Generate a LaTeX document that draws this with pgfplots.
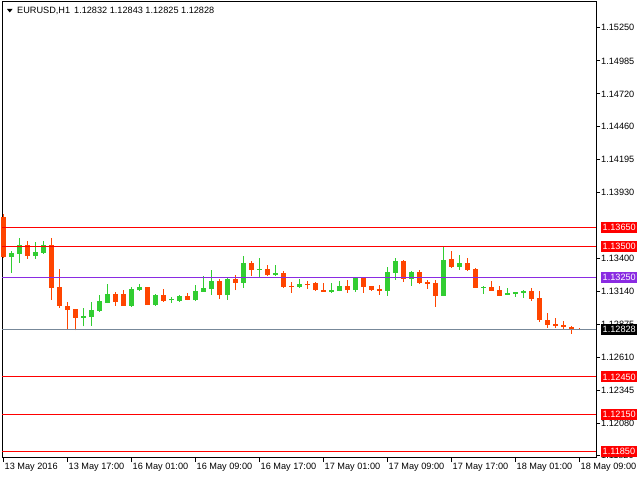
\documentclass[border=0pt]{standalone}
\usepackage{fontspec}
\setmainfont{Liberation Sans}
\usepackage{pgfplots}
\usepackage{pgfplotstable}
\pgfplotsset{compat=1.18}
\definecolor{bull}{RGB}{50,205,50}
\definecolor{bear}{RGB}{255,69,0}
\definecolor{lvl}{RGB}{255,0,0}
\definecolor{pur}{RGB}{138,43,226}
\definecolor{bid}{RGB}{119,136,153}

% bullish candles: x o h l c
\pgfplotstableread{
x o h l c
1 1.13414 1.13460 1.13286 1.13441
2 1.13438 1.13564 1.13366 1.13508
4 1.13422 1.13532 1.13396 1.13452
5 1.13446 1.13540 1.13438 1.13508
10 1.12925 1.13003 1.12856 1.12939
11 1.12933 1.13049 1.12861 1.12987
12 1.12981 1.13107 1.12973 1.13059
13 1.13045 1.13195 1.13043 1.13115
16 1.13019 1.13169 1.13013 1.13155
17 1.13147 1.13195 1.13142 1.13171
19 1.13027 1.13115 1.13019 1.13107
21 1.13065 1.13091 1.13045 1.13073
22 1.13061 1.13107 1.13053 1.13099
24 1.13067 1.13187 1.13059 1.13139
25 1.13134 1.13259 1.13132 1.13163
26 1.13155 1.13308 1.13107 1.13219
28 1.13107 1.13243 1.13069 1.13235
30 1.13206 1.13420 1.13166 1.13364
32 1.13310 1.13404 1.13251 1.13316
34 1.13267 1.13348 1.13259 1.13283
37 1.13171 1.13235 1.13163 1.13195
41 1.13134 1.13203 1.13126 1.13147
42 1.13139 1.13219 1.13137 1.13179
44 1.13147 1.13245 1.13134 1.13243
48 1.13142 1.13332 1.13101 1.13292
49 1.13286 1.13404 1.13230 1.13380
51 1.13238 1.13300 1.13182 1.13292
55 1.13101 1.13492 1.13099 1.13388
57 1.13334 1.13428 1.13310 1.13364
60 1.13169 1.13182 1.13119 1.13174
63 1.13109 1.13163 1.13107 1.13123
64 1.13118 1.13133 1.13093 1.13131
65 1.13126 1.13147 1.13085 1.13139
}\bulltab

% bearish candles: x o h l c
\pgfplotstableread{
x o h l c
0 1.13733 1.13757 1.13401 1.13412
3 1.13508 1.13540 1.13398 1.13422
6 1.13508 1.13564 1.13067 1.13166
7 1.13171 1.13318 1.13005 1.13021
8 1.13019 1.13051 1.12837 1.12989
9 1.12992 1.12995 1.12824 1.12925
14 1.13115 1.13129 1.13021 1.13053
15 1.13115 1.13147 1.13019 1.13021
18 1.13171 1.13173 1.13025 1.13027
20 1.13107 1.13155 1.13053 1.13061
23 1.13099 1.13123 1.13067 1.13069
27 1.13219 1.13235 1.13075 1.13107
29 1.13235 1.13267 1.13147 1.13206
31 1.13364 1.13380 1.13259 1.13310
33 1.13316 1.13348 1.13259 1.13267
35 1.13283 1.13300 1.13163 1.13171
36 1.13177 1.13211 1.13126 1.13171
38 1.13195 1.13219 1.13158 1.13190
39 1.13203 1.13211 1.13142 1.13147
40 1.13147 1.13203 1.13132 1.13134
43 1.13179 1.13227 1.13126 1.13150
45 1.13243 1.13245 1.13126 1.13174
46 1.13179 1.13181 1.13142 1.13150
47 1.13155 1.13187 1.13109 1.13142
50 1.13380 1.13388 1.13214 1.13238
52 1.13292 1.13308 1.13198 1.13206
53 1.13211 1.13227 1.13158 1.13198
54 1.13203 1.13227 1.13013 1.13101
56 1.13396 1.13460 1.13326 1.13334
58 1.13364 1.13404 1.13302 1.13310
59 1.13316 1.13324 1.13164 1.13166
61 1.13174 1.13219 1.13140 1.13142
62 1.13147 1.13179 1.13099 1.13101
66 1.13139 1.13163 1.13061 1.13077
67 1.13083 1.13139 1.12893 1.12909
68 1.12907 1.12963 1.12845 1.12869
69 1.12877 1.12923 1.12845 1.12861
70 1.12869 1.12899 1.12837 1.12850
71 1.12853 1.12858 1.12797 1.12830
72 1.12832 1.12843 1.12825 1.12828
}\beartab

\begin{document}
\begin{tikzpicture}[font=\fontsize{9.2}{11}\selectfont]
\useasboundingbox (0,0) rectangle (640bp,480bp);
\fill[white] (0,0) rectangle (640bp,480bp);
\begin{axis}[
  at={(2bp,22bp)}, anchor=south west,
  width=594bp, height=456bp, scale only axis,
  xmin=-0.1875, xmax=74.06, ymin=1.11800, ymax=1.15457,
  clip=false,
  axis line style={black, line width=1bp},
  tick align=outside, major tick length=4bp,
  tick style={black, line width=0.8bp},
  xtick pos=bottom, ytick pos=right, yticklabel pos=right,
  xtick={0,8,16,24,32,40,48,56,64,72},
  xticklabels={13 May 2016,13 May 17:00,16 May 01:00,16 May 09:00,16 May 17:00,17 May 01:00,17 May 09:00,17 May 17:00,18 May 01:00,18 May 09:00},
  xticklabel style={anchor=north west, inner xsep=1bp, inner ysep=1bp},
  ytick={1.15250,1.14985,1.14720,1.14460,1.14195,1.13930,1.13400,1.13140,1.12875,1.12610,1.12345,1.12080,1.11820},
  yticklabels={1.15250,1.14985,1.14720,1.14460,1.14195,1.13930,1.13400,1.13140,1.12875,1.12610,1.12345,1.12080,1.11820},
  yticklabel style={anchor=west, inner xsep=1bp},
  scaled y ticks=false,
  candle/.style={draw=none, mark=none, forget plot,
    error bars/.cd, y dir=plus, y explicit, error mark=none},
]
% wicks
\addplot[error bars/error bar style={draw=bull, line width=1bp}, candle]
  table[x=x, y=l, y error plus expr=\thisrow{h}-\thisrow{l}] {\bulltab};
\addplot[error bars/error bar style={draw=bear, line width=1bp}, candle]
  table[x=x, y=l, y error plus expr=\thisrow{h}-\thisrow{l}] {\beartab};
% bodies
\addplot[error bars/error bar style={draw=bull, line width=5bp}, candle]
  table[x=x, y=o, y error plus expr=\thisrow{c}-\thisrow{o}] {\bulltab};
\addplot[error bars/error bar style={draw=bear, line width=5bp}, candle]
  table[x=x, y=c, y error plus expr=\thisrow{o}-\thisrow{c}] {\beartab};
% horizontal levels
\draw[lvl, line width=1bp] (axis cs:-0.1875,1.13650) -- (axis cs:74.06,1.13650);
\draw[lvl, line width=1bp] (axis cs:-0.1875,1.13500) -- (axis cs:74.06,1.13500);
\draw[pur, line width=1bp] (axis cs:-0.1875,1.13250) -- (axis cs:74.06,1.13250);
\draw[bid, line width=1bp] (axis cs:-0.1875,1.12828) -- (axis cs:74.06,1.12828);
\draw[lvl, line width=1bp] (axis cs:-0.1875,1.12450) -- (axis cs:74.06,1.12450);
\draw[lvl, line width=1bp] (axis cs:-0.1875,1.12150) -- (axis cs:74.06,1.12150);
\draw[lvl, line width=1bp] (axis cs:-0.1875,1.11850) -- (axis cs:74.06,1.11850);
% price labels
\tikzset{plab/.style={anchor=west, text=white, inner xsep=1.5bp, inner ysep=0pt, minimum height=11bp, xshift=5bp}}
\node[plab, fill=lvl] at (axis cs:74.06,1.13650) {1.13650};
\node[plab, fill=lvl] at (axis cs:74.06,1.13500) {1.13500};
\node[plab, fill=pur] at (axis cs:74.06,1.13250) {1.13250};
\node[plab, fill=black] at (axis cs:74.06,1.12828) {1.12828};
\node[plab, fill=lvl] at (axis cs:74.06,1.12450) {1.12450};
\node[plab, fill=lvl] at (axis cs:74.06,1.12150) {1.12150};
\node[plab, fill=lvl] at (axis cs:74.06,1.11850) {1.11850};
\end{axis}
\fill[black] (7bp,471bp) -- (12.5bp,471bp) -- (9.75bp,467.5bp) -- cycle;
\node[anchor=base west, inner sep=0pt] at (17bp,466.5bp) {EURUSD,H1\hspace{4bp}1.12832 1.12843 1.12825 1.12828};
\end{tikzpicture}
\end{document}
